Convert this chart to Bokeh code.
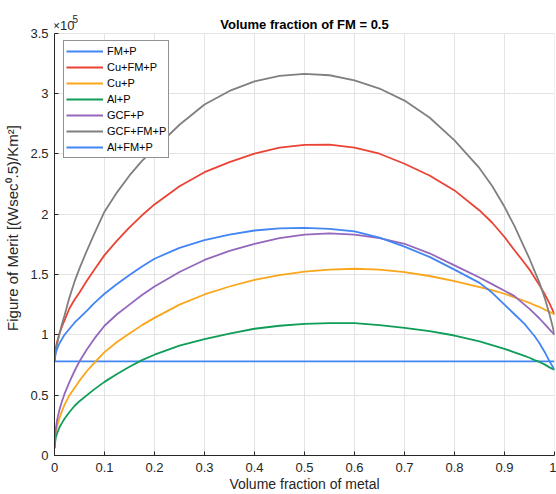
from bokeh.plotting import figure
from bokeh.models import (Legend, LegendItem, FixedTicker, CustomJSTickFormatter,
                          Label, Range1d)
from bokeh.embed import file_html
from bokeh.resources import INLINE

# Volume fraction of metal (x axis)
x_frac = [0, 0.0025, 0.005, 0.01, 0.015, 0.02, 0.03, 0.04, 0.05, 0.065, 0.08, 0.1,
          0.125, 0.15, 0.175, 0.2, 0.25, 0.3, 0.35, 0.4, 0.45, 0.5, 0.55, 0.6, 0.65,
          0.7, 0.75, 0.8, 0.85, 0.875, 0.9, 0.92, 0.94, 0.95, 0.96, 0.97, 0.98, 0.99,
          0.995, 1.0]

# Figure of merit values, in units of 1e5
fm_p = [0.78, 0.78, 0.78, 0.78, 0.78, 0.78, 0.78, 0.78, 0.78, 0.78, 0.78, 0.78,
        0.78, 0.78, 0.78, 0.78, 0.78, 0.78, 0.78, 0.78, 0.78, 0.78, 0.78, 0.78, 0.78,
        0.78, 0.78, 0.78, 0.78, 0.78, 0.78, 0.78, 0.78, 0.78, 0.78, 0.78, 0.78, 0.78,
        0.78, 0.78]
cu_fm_p = [0.78, 0.89, 0.94, 1.01, 1.07, 1.12, 1.22, 1.29, 1.35, 1.45, 1.54, 1.66,
           1.78, 1.89, 1.99, 2.08, 2.23, 2.347, 2.43, 2.50, 2.55, 2.574, 2.575, 2.55, 2.50,
           2.417, 2.32, 2.196, 2.03, 1.93, 1.81, 1.70, 1.595, 1.54, 1.475, 1.41, 1.34, 1.26,
           1.215, 1.168]
cu_p = [0.06, 0.19, 0.24, 0.31, 0.37, 0.42, 0.50, 0.56, 0.62, 0.70, 0.77, 0.856,
        0.94, 1.01, 1.08, 1.14, 1.25, 1.334, 1.40, 1.455, 1.495, 1.524, 1.54, 1.547, 1.54,
        1.519, 1.487, 1.444, 1.395, 1.37, 1.34, 1.31, 1.28, 1.265, 1.245, 1.23, 1.21, 1.19,
        1.18, 1.168]
al_p = [0.06, 0.15, 0.18, 0.234, 0.27, 0.305, 0.36, 0.41, 0.45, 0.50, 0.55, 0.61,
        0.675, 0.735, 0.79, 0.835, 0.91, 0.964, 1.01, 1.05, 1.075, 1.091, 1.097, 1.096, 1.08,
        1.058, 1.03, 0.994, 0.945, 0.915, 0.884, 0.855, 0.825, 0.81, 0.79, 0.775, 0.755, 0.73,
        0.72, 0.71]
gcf_p = [0.06, 0.22, 0.29, 0.38, 0.45, 0.51, 0.61, 0.70, 0.78, 0.88, 0.97, 1.075,
         1.17, 1.25, 1.33, 1.40, 1.52, 1.62, 1.695, 1.754, 1.80, 1.83, 1.84, 1.83, 1.80,
         1.754, 1.675, 1.575, 1.475, 1.42, 1.365, 1.32, 1.25, 1.215, 1.175, 1.135, 1.09, 1.045,
         1.023, 1.0]
gcf_fm_p = [0.78, 0.87, 0.92, 1.01, 1.09, 1.16, 1.31, 1.44, 1.55, 1.70, 1.84, 2.02,
            2.18, 2.32, 2.44, 2.54, 2.74, 2.908, 3.02, 3.10, 3.145, 3.162, 3.15, 3.107, 3.04,
            2.94, 2.80, 2.61, 2.38, 2.235, 2.06, 1.90, 1.72, 1.63, 1.53, 1.43, 1.31, 1.17,
            1.09, 1.0]
al_fm_p = [0.78, 0.85, 0.88, 0.93, 0.965, 1.0, 1.05, 1.10, 1.14, 1.20, 1.265, 1.34,
           1.42, 1.495, 1.565, 1.63, 1.72, 1.785, 1.83, 1.864, 1.882, 1.886, 1.878, 1.856, 1.805,
           1.73, 1.645, 1.54, 1.43, 1.35, 1.25, 1.17, 1.09, 1.04, 0.99, 0.93, 0.86, 0.78,
           0.745, 0.71]

series_names = ["FM+P", "Cu+FM+P", "Cu+P", "Al+P", "GCF+P", "GCF+FM+P", "Al+FM+P"]
series_vals = [fm_p, cu_fm_p, cu_p, al_p, gcf_p, gcf_fm_p, al_fm_p]
series_colors = ["#4285F4", "#EA4335", "#FAA61A", "#0F9D58", "#9467BD", "#808080", "#4285F4"]

x_ticks = [0, 0.1, 0.2, 0.3, 0.4, 0.5, 0.6, 0.7, 0.8, 0.9, 1]
y_ticks = [0, 0.5, 1, 1.5, 2, 2.5, 3, 3.5]
Y_MAX = 3.5
title_text = "Volume fraction of FM = 0.5"
scale_text = "\u00d710"
scale_exp = "5"

FONT = "Liberation Sans"
TXT = "#262626"
GRID = "#e3e3e3"

# layout: axes box spans 422.5 px of a 455 px tall frame; the strip above
# the box holds the title and the exponent label
H, TOP_STRIP = 494, 32.5
BOTTOM = 39
frame_h = H - BOTTOM
y_top = Y_MAX * frame_h / (frame_h - TOP_STRIP)

p = figure(width=556, height=H, output_backend="svg", toolbar_location=None,
           x_range=Range1d(0, 1), y_range=Range1d(0, y_top),
           min_border_left=54, min_border_right=2, min_border_top=0,
           min_border_bottom=BOTTOM)

p.background_fill_color = "white"
p.border_fill_color = "white"
p.outline_line_color = None

fmt = CustomJSTickFormatter(code="return String(Math.round(tick*10)/10);")
for ax, ticks in ((p.xaxis[0], x_ticks), (p.yaxis[0], y_ticks)):
    ax.ticker = FixedTicker(ticks=ticks)
    ax.formatter = fmt
    ax.major_tick_in = 4
    ax.major_tick_out = 0
    ax.minor_tick_line_color = None
    ax.axis_line_color = TXT
    ax.major_tick_line_color = TXT
    ax.major_label_text_font = FONT
    ax.major_label_text_font_size = "13px"
    ax.major_label_text_color = TXT
    ax.axis_label_text_font = FONT
    ax.axis_label_text_font_size = "14px"
    ax.axis_label_text_font_style = "normal"
    ax.axis_label_text_color = TXT

p.yaxis.bounds = (0, Y_MAX)
p.xaxis.axis_label = "Volume fraction of metal"
p.yaxis.axis_label = "Figure of Merit [(Wsec\u2070.5)/Km\u00b2]"
p.yaxis.axis_label_text_font_size = "15px"
p.xaxis.major_label_standoff = 7
p.yaxis.major_label_standoff = 6
p.xaxis.axis_label_standoff = 1
p.yaxis.axis_label_standoff = 6

p.xgrid.visible = False
p.ygrid.grid_line_color = GRID

# vertical grid lines limited to the axes box
p.segment(x0=x_ticks, y0=[0] * len(x_ticks), x1=x_ticks, y1=[Y_MAX] * len(x_ticks),
          line_color=GRID, line_width=1)

items = []
for name, vals, col in zip(series_names, series_vals, series_colors):
    r = p.line(x_frac, vals, line_color=col, line_width=1.8)
    items.append(LegendItem(label=name, renderers=[r]))

legend = Legend(items=items, location=(9, 297))
legend.padding = 2
legend.spacing = 0
legend.glyph_width = 37
legend.glyph_height = 16
legend.label_height = 16
legend.label_standoff = 4
legend.label_text_font = FONT
legend.label_text_font_size = "11px"
legend.label_text_color = "black"
legend.border_line_color = "#262626"
legend.border_line_width = 1
legend.background_fill_color = "white"
legend.background_fill_alpha = 1
p.add_layout(legend, "center")

title = Label(x=0.5, y=Y_MAX, text=title_text, y_offset=9,
              text_font=FONT, text_font_size="13px", text_font_style="bold",
              text_color="black", text_align="center", text_baseline="alphabetic")
p.add_layout(title)

exp = Label(x=0, y=Y_MAX, text=scale_text, x_offset=-2, y_offset=8,
            text_font=FONT, text_font_size="13px", text_color=TXT,
            text_align="left", text_baseline="alphabetic")
p.add_layout(exp)
exp5 = Label(x=0, y=Y_MAX, text=scale_exp, x_offset=18, y_offset=14,
             text_font=FONT, text_font_size="10px", text_color=TXT,
             text_align="left", text_baseline="alphabetic")
p.add_layout(exp5)

open("out.html", "w").write(file_html(p, INLINE))
